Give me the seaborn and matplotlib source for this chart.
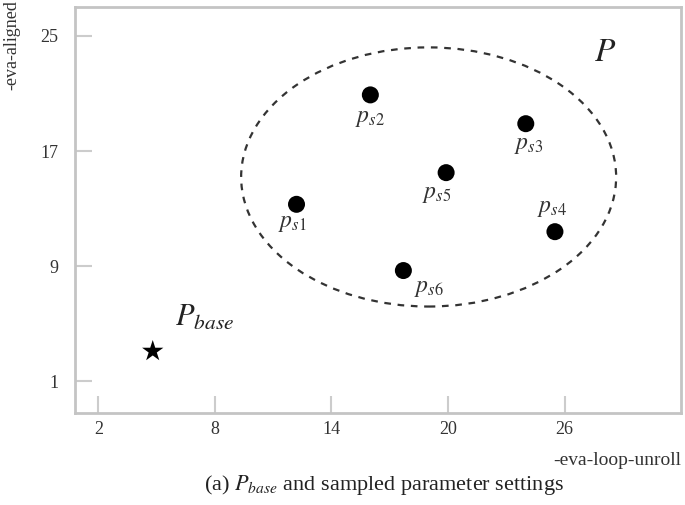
import numpy as np
import pandas as pd
import matplotlib
matplotlib.use('Agg')
import matplotlib.pyplot as plt
import seaborn as sns
from matplotlib.patches import Ellipse

# sampled parameter settings
names = ['s1', 's2', 's3', 's4', 's5', 's6']
loop_unroll = [12.2, 16.0, 24.0, 25.5, 19.9, 17.7]
aligned = [13.3, 20.9, 18.9, 11.4, 15.5, 8.7]

# baseline setting
base_x = [4.8]
base_y = [3.1]

# label offsets in points (dx, dy)
label_offsets = [(-3, -14), (0, -17), (2, -16), (-2, 17), (-7, -16), (18, -13)]

sns.set_style('white')
plt.rcParams['font.family'] = ['Liberation Serif', 'DejaVu Serif']
plt.rcParams['mathtext.fontset'] = 'stix'

df = pd.DataFrame({'x': loop_unroll, 'y': aligned, 'name': names})
base = pd.DataFrame({'x': base_x, 'y': base_y})

fig = plt.figure(figsize=(6.85, 5.05), dpi=100)
ax = fig.add_axes([0.1095, 0.182, 0.885, 0.804])

sns.scatterplot(data=df, x='x', y='y', color='black', s=150, edgecolor='none', ax=ax, zorder=3)
sns.scatterplot(data=base, x='x', y='y', color='black', marker='*', s=260, edgecolor='none', ax=ax, zorder=3)

for (nx, ny, nm), (dx, dy) in zip(zip(loop_unroll, aligned, names), label_offsets):
    ax.annotate('$p_{%s}$' % nm, (nx, ny), xytext=(dx, dy), textcoords='offset points',
                ha='center', va='center', fontsize=17, color='#333333')

ax.annotate('$P_{base}$', (base_x[0], base_y[0]), xytext=(37, 24), textcoords='offset points',
            ha='center', va='center', fontsize=22, color='#222222')
ax.text(28.1, 23.8, '$P$', fontsize=24, ha='center', va='center', color='#222222')

ell = Ellipse((19.0, 15.2), width=19.3, height=18.0, fill=False, edgecolor='#333333',
              linestyle=(0, (3, 3)), linewidth=1.6, zorder=2)
ax.add_patch(ell)

ax.set_xlim(0.8, 32.0)
ax.set_ylim(-1.2, 27.0)
ax.set_xticks([2, 8, 14, 20, 26])
ax.set_yticks([1, 9, 17, 25])
ax.tick_params(bottom=True, left=True, direction='in', length=12, width=1.5, color='#cccccc',
               labelsize=13, labelcolor='#333333', pad=6)
ax.tick_params(axis='y', pad=12)
for sp in ax.spines.values():
    sp.set_color('#c4c4c4')
    sp.set_linewidth(2)

ax.set_xlabel('')
ax.set_ylabel('')
fig.text(0.994, 0.088, '-eva-loop-unroll', ha='right', va='center', fontsize=14, color='#333333')
fig.text(0.018, 1.0, '-eva-aligned', rotation=90, ha='center', va='top', fontsize=13, color='#333333')
fig.text(0.56, 0.04, '(a) $P_{base}$ and sampled parameter settings', ha='center', va='center',
         fontsize=16, color='#222222')

fig.savefig('out.png', dpi=100)
